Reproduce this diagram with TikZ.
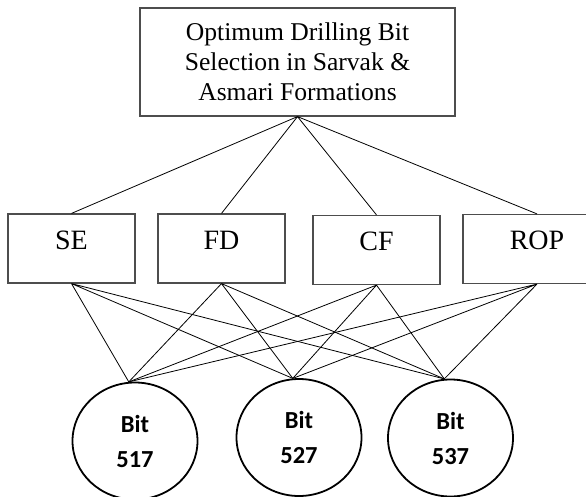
\documentclass[tikz,border=0pt]{standalone}
\usepackage{fontspec}
\setmainfont{Liberation Serif}
\newfontfamily\bitfont{Carlito}
\usetikzlibrary{shapes.geometric}

\begin{document}
\begin{tikzpicture}[x=1pt,y=1pt,yscale=-1,xscale=1,
  goalbox/.style={draw={rgb,255:red,77;green,77;blue,77},line width=1.2pt,inner sep=0pt,
    minimum width=315pt,minimum height=108pt,align=center,font=\fontsize{25.6}{30}\selectfont},
  critbox/.style={draw={rgb,255:red,77;green,77;blue,77},line width=1.2pt,inner sep=0pt,
    minimum width=127pt,minimum height=69pt,text height=20pt,text depth=19pt,
    font=\fontsize{28}{30}\selectfont},
  bitnode/.style={draw,ellipse,line width=1.8pt,inner sep=0pt,minimum width=125pt,
    minimum height=117pt,align=center,font=\bitfont\bfseries\fontsize{24.5}{35}\selectfont},
  link/.style={line width=0.8pt}]
%set diagram area to 586 x 497
\clip (0,0) rectangle (586,497);

% Goal
\node (goal) at (297.5,62) [goalbox] {Optimum Drilling Bit\\Selection in Sarvak \&\\Asmari Formations};

% Criteria
\node (se) at (71.5,248.5) [critbox] {SE};
\node (fd) at (221.5,248.5) [critbox] {FD};
\node (cf) at (376.5,250) [critbox] {CF};
\node (rop) at (537,249) [critbox,minimum width=148pt] {ROP};

% Alternatives
\node (b1) at (135,441) [bitnode] {Bit\\517};
\node (b2) at (299,437.5) [bitnode] {Bit\\527};
\node (b3) at (450.5,438) [bitnode] {Bit\\537};

% goal to criteria
\draw [link] (goal.south) -- (se.north) (goal.south) -- (fd.north)
  (goal.south) -- (cf.north) (goal.south) -- (rop.north);

% criteria to bits
\draw [link] (se.south) -- (b1.96) (se.south) -- (b2.96) (se.south) -- (b3.96);
\draw [link] (fd.south) -- (b1.96) (fd.south) -- (b2.96) (fd.south) -- (b3.96);
\draw [link] (cf.south) -- (b1.96) (cf.south) -- (b2.96) (cf.south) -- (b3.96);
\draw [link] (rop.south) -- (b1.96) (rop.south) -- (b2.96) (rop.south) -- (b3.96);

\end{tikzpicture}
\end{document}
